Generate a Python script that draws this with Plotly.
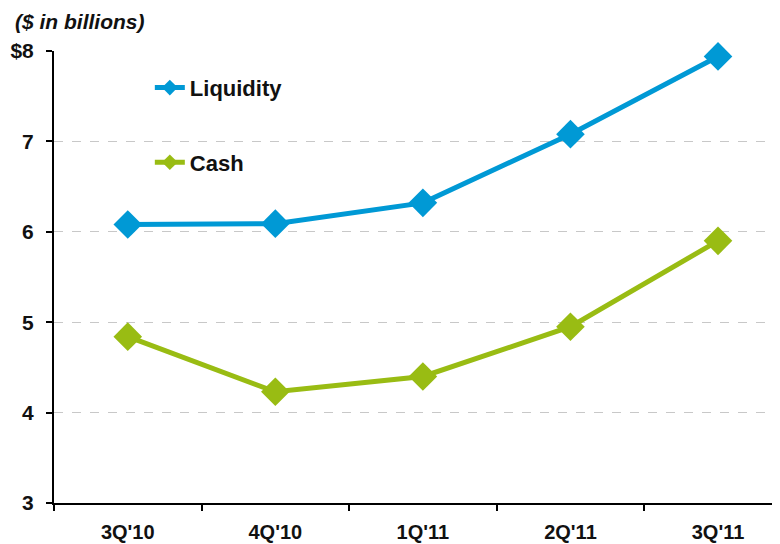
import plotly.graph_objects as go

quarters = ["3Q'10", "4Q'10", "1Q'11", "2Q'11", "3Q'11"]
liquidity = [6.08, 6.09, 6.32, 7.08, 7.94]
cash = [4.84, 4.23, 4.40, 4.95, 5.90]
y_ticks = [3, 4, 5, 6, 7, 8]
y_labels = ["3", "4", "5", "6", "7", "$8"]

BLUE = "#0099D5"
GREEN = "#99BC13"
FONT = "Liberation Sans, Arial, sans-serif"

fig = go.Figure()
fig.add_trace(go.Scatter(
    x=quarters, y=liquidity, name="Liquidity", mode="lines+markers",
    line=dict(color=BLUE, width=5),
    marker=dict(symbol="diamond", size=22, color=BLUE),
    cliponaxis=False, legendgroup="a",
))
fig.add_trace(go.Scatter(
    x=quarters, y=cash, name="Cash", mode="lines+markers",
    line=dict(color=GREEN, width=5),
    marker=dict(symbol="diamond", size=22, color=GREEN),
    cliponaxis=False, legendgroup="b",
))

# white legend box hiding the gridlines behind the legend
fig.add_shape(type="rect", xref="paper", yref="y", x0=0.029, x1=0.384, y0=6.41, y1=7.9,
              fillcolor="white", line=dict(width=0), layer="between")

fig.add_annotation(text="<b><i>($ in billions)</i></b>", xref="paper", yref="paper",
                   x=-0.057, y=1.066, xanchor="left", yanchor="middle", showarrow=False,
                   font=dict(family=FONT, size=21, color="#111"))

# the page body adds an 8px offset, so the figure is sized/margined to compensate
fig.update_layout(
    width=772, height=536,
    margin=dict(l=46, r=0, t=43, b=41, autoexpand=False),
    paper_bgcolor="white", plot_bgcolor="white",
    font=dict(family=FONT, color="#111"),
    showlegend=True,
    legend=dict(
        x=0.132, y=0.965, xanchor="left", yanchor="top",
        bgcolor="rgba(0,0,0,0)", font=dict(family=FONT, size=22, color="#111", weight="bold"),
        traceorder="grouped", tracegroupgap=43, itemsizing="constant",
    ),
    xaxis=dict(
        type="category", range=[-0.5, 4.42], tickson="boundaries", automargin=False,
        ticks="outside", ticklen=6, tickwidth=1.5, tickcolor="black",
        showline=True, linecolor="black", linewidth=2, showgrid=False,
        tickfont=dict(family=FONT, size=20, color="#111", weight="bold"),
        ticklabelstandoff=10,
    ),
    yaxis=dict(
        range=[3, 8], tickmode="array", tickvals=y_ticks, ticktext=y_labels, automargin=False,
        ticks="outside", ticklen=6, tickwidth=1.5, tickcolor="black",
        showline=True, linecolor="black", linewidth=2,
        showgrid=True, gridcolor="#C8C8C8", gridwidth=1, griddash="dash",
        zeroline=False,
        tickfont=dict(family=FONT, size=21, color="#111", weight="bold"),
        ticklabelstandoff=8,
    ),
)

fig.write_html("out.html")
